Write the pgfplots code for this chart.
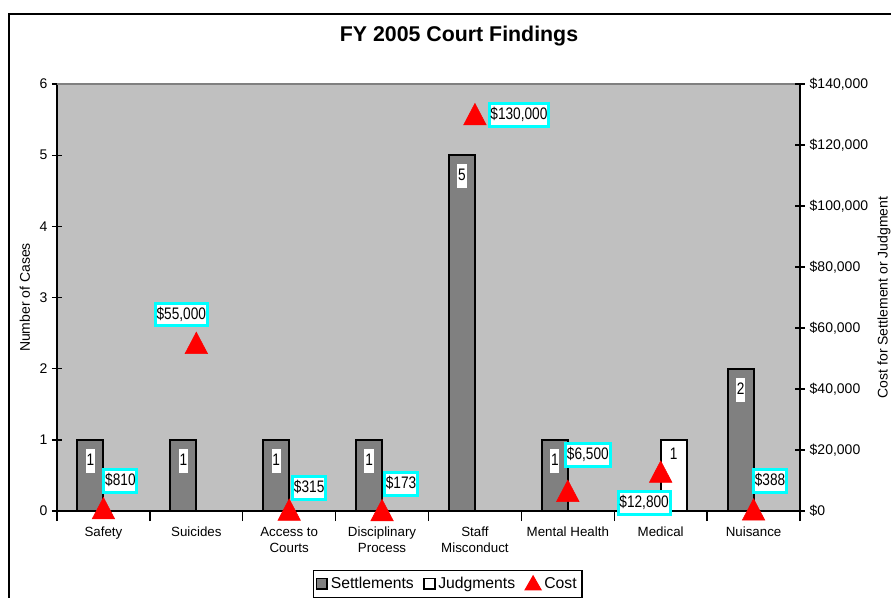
\documentclass[border=0pt]{standalone}
\usepackage{pgfplots}
\usepackage{pgfplotstable}
\pgfplotsset{compat=1.18}
\usepackage{fontspec}
\setmainfont{Liberation Sans}
\newfontfamily\narrow[FakeStretch=0.82]{Liberation Sans}

\definecolor{plotgray}{HTML}{C0C0C0}
\definecolor{bargray}{HTML}{808080}
\definecolor{boxcyan}{HTML}{00FFFF}

% cost per category, label text and label offset (pt)
\pgfplotstableread{
x cost lab dx dy
0 810 810 12.75 22.9
1 55000 55,000 -11.25 24
2 315 315 15 19.1
3 173 173 14.25 22.1
4 130000 130,000 33 1.9
5 6500 6,500 15 29.6
6 12800 12,800 -12.4 -21
7 388 388 12.4 24
}\costtable

\pgfplotsset{
  legsq/.style={legend image code/.code={\draw[##1,draw=black,line width=1.3pt] (0pt,-4pt) rectangle (8pt,4pt);}},
  legtri/.style={legend image code/.code={\fill[red] (0pt,-4.5pt) -- (6pt,6pt) -- (12pt,-4.5pt) -- cycle;}},
}
\tikzset{
  barlabel/.style={anchor=center, fill=white, draw=none, inner xsep=0.6pt, inner ysep=3pt,
    text height=9.5pt, text depth=2.5pt, font=\narrow\fontsize{12.5}{14}\selectfont, text=black},
}

\begin{document}
\begin{tikzpicture}
\begin{axis}[
  scale only axis,
  width=557.25pt, height=320.25pt,
  xmin=-0.5, xmax=7.5,
  ymin=0, ymax=6,
  ytick={0,...,6},
  axis x line*=bottom, axis y line*=left,
  axis line style={-, line width=1pt, black},
  axis background/.style={fill=plotgray},
  xtick={0,...,7},
  xticklabels={Safety, Suicides, Access to\\Courts, Disciplinary\\Process, Staff\\Misconduct, Mental Health, Medical, Nuisance},
  xticklabel style={align=center, font=\fontsize{10}{12}\selectfont, yshift=-1pt},
  yticklabel style={font=\fontsize{10.5}{12}\selectfont},
  major x tick style={draw=none},
  minor xtick={-0.5,0.5,...,7.5},
  minor x tick style={black, line width=1pt},
  minor tick length=7.5pt,
  major tick length=7.5pt,
  tick align=center,
  y tick style={black, line width=1pt},
  /pgf/number format/assume math mode=true,
  ybar=0pt, bar width=19.5pt,
  ylabel={Number of Cases},
  every axis y label/.style={at={(axis description cs:-0.0431,0.5)}, rotate=90, anchor=center},
  label style={font=\fontsize{10.5}{12}\selectfont},
  clip=false,
]
\addplot[fill=bargray, draw=black, line width=1.5pt,
  nodes near coords,
  every node near coord/.append style={barlabel, yshift=-15.75pt}]
  coordinates {(0,1) (1,1) (2,1) (3,1) (4,5) (5,1) (7,2)};
\addplot[fill=white, draw=black, line width=1.5pt,
  nodes near coords,
  every node near coord/.append style={barlabel, yshift=-11pt}]
  coordinates {(6,1)};
\draw[bargray, line width=1.5pt] (rel axis cs:0,1) -- (rel axis cs:1,1);
\end{axis}

\begin{axis}[
  scale only axis,
  width=557.25pt, height=320.25pt,
  xmin=-0.5, xmax=7.5,
  ymin=0, ymax=140000,
  axis x line=none,
  axis y line*=right,
  axis line style={-, line width=1pt, black},
  ytick={0,20000,...,140000},
  yticklabels={\$0,{\$20,000},{\$40,000},{\$60,000},{\$80,000},{\$100,000},{\$120,000},{\$140,000}},
  scaled y ticks=false,
  yticklabel style={font=\fontsize{10.5}{12}\selectfont},
  major tick length=7.5pt,
  tick align=center,
  y tick style={black, line width=1pt},
  ylabel={Cost for Settlement or Judgment},
  every axis y label/.style={at={(axis description cs:1.1131,0.5)}, rotate=90, anchor=center},
  label style={font=\fontsize{10.5}{12}\selectfont},
  clip=false,
  legend style={at={(axis description cs:0.5256,0)}, anchor=north, yshift=-44.25pt,
    draw=black, line width=0.8pt, fill=white, font=\fontsize{11.8}{14}\selectfont,
    inner xsep=2pt, inner ysep=3pt,
    /tikz/every even column/.append style={column sep=5pt}},
  legend columns=3,
  legend cell align=left,
]
\addlegendimage{legsq, fill=bargray}
\addlegendentry{Settlements}
\addlegendimage{legsq, fill=white}
\addlegendentry{Judgments}
\addlegendimage{legtri}
\addlegendentry{Cost}
\addplot[only marks, mark=triangle*, mark size=9.75pt, red,
  mark options={yshift=-2.4pt, yscale=1.1},
  point meta=explicit symbolic,
  visualization depends on={\thisrow{dx}\as\dx},
  visualization depends on={\thisrow{dy}\as\dy},
  nodes near coords={\$\pgfplotspointmeta},
  every node near coord/.append style={anchor=center, xshift=\dx pt, yshift=\dy pt,
    draw=boxcyan, line width=2.25pt, fill=white, text=black,
    inner xsep=1pt, inner ysep=2.5pt, text height=9.5pt, text depth=2.5pt,
    font=\narrow\fontsize{12.5}{14}\selectfont},
  forget plot]
  table[x=x, y=cost, meta=lab] {\costtable};
\end{axis}

\node[anchor=base, font=\bfseries\fontsize{16}{19}\selectfont] at (301.5pt,351.75pt) {FY 2005 Court Findings};
\draw[black, line width=0.8pt] (-36pt,-70pt) -- (-36pt,372.75pt) -- (640pt,372.75pt);
\pgfresetboundingbox
\path[use as bounding box] (-42.75pt,-64.5pt) rectangle (625.5pt,383.25pt);
\end{tikzpicture}
\end{document}
